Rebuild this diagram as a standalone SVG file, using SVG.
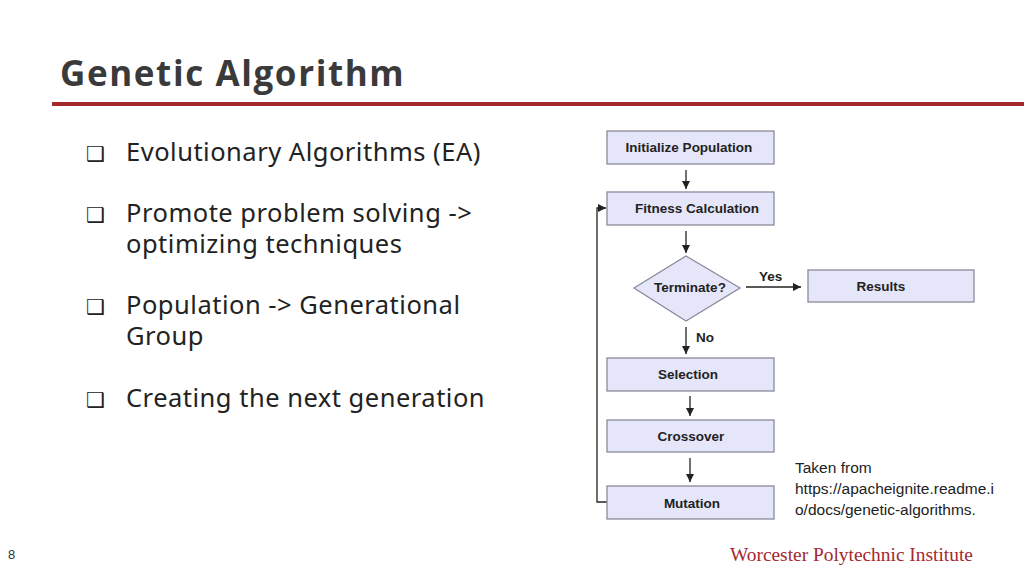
<svg xmlns="http://www.w3.org/2000/svg" width="1024" height="576" viewBox="0 0 1024 576">
<defs>
<style>
.box{fill:#e6e6fa;stroke:#8a8a9a;stroke-width:1.3}
.bt{font-family:"Liberation Sans",Arial,sans-serif;font-weight:bold;font-size:13.5px;fill:#222;text-anchor:middle}
.bul{font-family:"Noto Sans","DejaVu Sans",sans-serif;font-size:25.5px;letter-spacing:0.5px;fill:#222}
.box2{font-family:"DejaVu Sans",sans-serif;font-size:21px;fill:#222}
.ln{stroke:#222;stroke-width:1.3;fill:none}
</style>
<marker id="ar" viewBox="0 0 10 10" refX="10" refY="5" markerWidth="8" markerHeight="8" orient="auto" markerUnits="userSpaceOnUse"><path d="M0,0L10,5L0,10z" fill="#222"/></marker>
</defs>
<rect width="1024" height="576" fill="#fff"/>
<text x="60" y="86" font-family="'Open Sans','DejaVu Sans',sans-serif" font-weight="bold" font-size="35" letter-spacing="1.6" fill="#3a3a3a">Genetic Algorithm</text>
<rect x="52" y="102" width="972" height="4" fill="#a5282f"/>
<g class="box2">
<text x="86" y="161">❑</text>
<text x="86" y="222">❑</text>
<text x="86" y="314">❑</text>
<text x="86" y="407">❑</text>
</g>
<g class="bul">
<text x="126" y="161">Evolutionary Algorithms (EA)</text>
<text x="126" y="222">Promote problem solving -&gt;</text>
<text x="126" y="253">optimizing  techniques</text>
<text x="126" y="314">Population -&gt; Generational</text>
<text x="126" y="345">Group</text>
<text x="126" y="407">Creating the next generation</text>
</g>
<g id="connectors">
<line class="ln" x1="686" y1="170" x2="686" y2="189" marker-end="url(#ar)"/>
<line class="ln" x1="686" y1="231" x2="686" y2="253" marker-end="url(#ar)"/>
<line class="ln" x1="746" y1="287" x2="801" y2="287" marker-end="url(#ar)"/>
<line class="ln" x1="686" y1="327" x2="686" y2="354" marker-end="url(#ar)"/>
<line class="ln" x1="690" y1="396" x2="690" y2="416" marker-end="url(#ar)"/>
<line class="ln" x1="690" y1="458" x2="690" y2="482" marker-end="url(#ar)"/>
<polyline class="ln" points="607,502 597,502 597,208 606,208" marker-end="url(#ar)"/>
<text x="759" y="281" class="bt" style="text-anchor:start">Yes</text>
<text x="696" y="342" class="bt" style="text-anchor:start">No</text>
</g>
<g id="init"><rect class="box" x="607" y="131" width="167" height="33"/><text class="bt" x="689" y="152">Initialize Population</text></g>
<g id="fitness"><rect class="box" x="607" y="192" width="167" height="33"/><text class="bt" x="697" y="213">Fitness Calculation</text></g>
<g id="terminate"><polygon class="box" points="686,256 740,288 686,321 634,288"/><text class="bt" x="690" y="292">Terminate?</text></g>
<g id="results"><rect class="box" x="808" y="270" width="166" height="32"/><text class="bt" x="881" y="291">Results</text></g>
<g id="selection"><rect class="box" x="607" y="358" width="167" height="33"/><text class="bt" x="688" y="379">Selection</text></g>
<g id="crossover"><rect class="box" x="607" y="420" width="167" height="32"/><text class="bt" x="691" y="441">Crossover</text></g>
<g id="mutation"><rect class="box" x="607" y="486" width="167" height="33"/><text class="bt" x="692" y="508">Mutation</text></g>
<g font-family="'Liberation Sans',Arial,sans-serif" font-size="15.5" fill="#222">
<text x="795" y="473">Taken from</text>
<text x="795" y="494">https://apacheignite.readme.i</text>
<text x="795" y="515">o/docs/genetic-algorithms.</text>
</g>
<text x="8" y="559" font-family="'Liberation Sans',Arial,sans-serif" font-size="13" fill="#333">8</text>
<text x="730" y="561" font-family="'Liberation Serif','Times New Roman',serif" font-size="19.4" fill="#a5282f">Worcester Polytechnic Institute</text>
</svg>
